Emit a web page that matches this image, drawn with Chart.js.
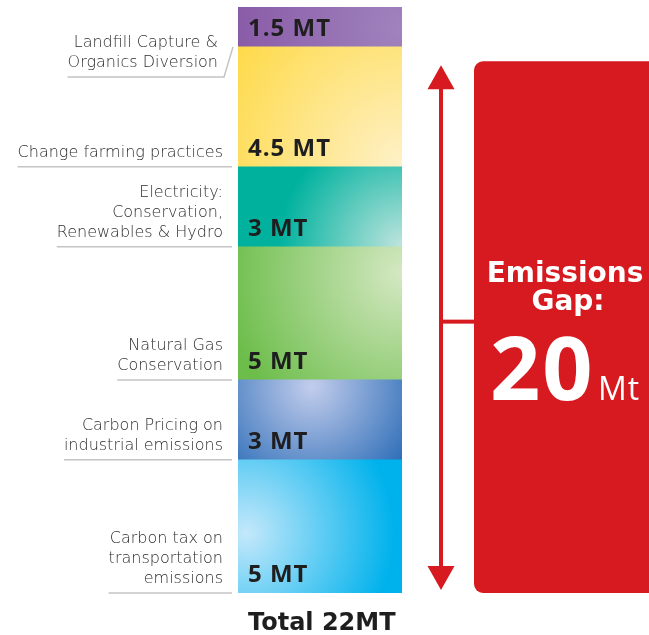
<!DOCTYPE html>
<html>
<head>
<meta charset="utf-8">
<script src="https://cdn.jsdelivr.net/npm/chart.js@4.4.1/dist/chart.umd.min.js"></script>
<style>
  html, body { margin: 0; padding: 0; background: #fff; }
  #gap { display: block; }
</style>
</head>
<body>
<canvas id="gap" width="649" height="635"></canvas>
<script>
// segments, bottom to top
var categories = [
    ['Carbon tax on', 'transportation', 'emissions'],
    ['Carbon Pricing on', 'industrial emissions'],
    ['Natural Gas', 'Conservation'],
    ['Electricity:', 'Conservation,', 'Renewables & Hydro'],
    ['Change farming practices'],
    ['Landfill Capture &', 'Organics Diversion']
];
var values = [5, 3, 5, 3, 4.5, 1.5];
var gapValue = 20;
var gapTitle = ['Emissions', 'Gap:'];
var unit = 'MT';
var gapUnit = 'Mt';

// base colour, highlight colour, highlight centre (fraction of box), radius (fraction of width)
var shades = [
    ['#00b2ec', '#c4e8fb', 0.05, 0.55, 0.9],
    ['#2669b5', '#c3cdec', 0.45, 0.08, 0.75],
    ['#6cbd4a', '#d4e8c2', 1.0, 0.2, 1.1],
    ['#00b29e', '#bfe4de', 1.0, 1.0, 0.75],
    ['#fed52e', '#fef1c8', 1.0, 1.0, 1.5],
    ['#8a5ca8', '#a083bd', 1.0, 0.5, 1.0]
];

var RED = '#d71920';
var SANS = '"Open Sans", "Liberation Sans", sans-serif';
var WIDE = '"DejaVu Sans", sans-serif';

function segBox(chart, i) {
    var y = chart.scales.y;
    var area = chart.chartArea;
    var start = 0;
    for (var k = 0; k < i; k++) start += values[k];
    return {
        left: area.left,
        right: area.right,
        top: y.getPixelForValue(start + values[i]),
        bottom: y.getPixelForValue(start)
    };
}

function fillFor(i) {
    return function(context) {
        var chart = context.chart;
        if (!chart.chartArea || !chart.scales.y) return shades[i][0];
        var b = segBox(chart, i);
        var s = shades[i];
        var w = b.right - b.left;
        var cx = b.left + s[2] * w;
        var cy = b.top + s[3] * (b.bottom - b.top);
        var g = chart.ctx.createRadialGradient(cx, cy, 0, cx, cy, s[4] * w);
        g.addColorStop(0, s[1]);
        g.addColorStop(1, s[0]);
        return g;
    };
}

var decorations = {
    id: 'decorations',
    afterDraw: function(chart) {
        var ctx = chart.ctx;
        var area = chart.chartArea;
        var y = chart.scales.y;
        ctx.save();
        ctx.textBaseline = 'alphabetic';

        // labels on the left, value text inside
        for (var i = 0; i < values.length; i++) {
            var b = segBox(chart, i);
            var lines = categories[i];
            var top = i === values.length - 1;
            var lineY = top ? b.bottom + 30 : b.bottom;
            var textRight = top ? 218 : 223;
            var lineRight = top ? 224 : area.left - 6;

            ctx.font = '200 16px ' + WIDE;
            ctx.letterSpacing = '0px';
            ctx.fillStyle = '#2e2e2e';
            ctx.textAlign = 'right';
            var maxW = 0;
            for (var j = 0; j < lines.length; j++) {
                var by = lineY - 10 - (lines.length - 1 - j) * 20;
                ctx.fillText(lines[j], textRight, by);
                maxW = Math.max(maxW, ctx.measureText(lines[j]).width);
            }
            ctx.strokeStyle = '#c4c4c4';
            ctx.lineWidth = 1.5;
            ctx.beginPath();
            ctx.moveTo(textRight - maxW, lineY);
            ctx.lineTo(lineRight, lineY);
            if (top) ctx.lineTo(area.left - 5, b.bottom);
            ctx.stroke();

            ctx.font = 'bold 24px ' + SANS;
            ctx.letterSpacing = '1px';
            ctx.fillStyle = '#1e1e1e';
            ctx.textAlign = 'left';
            ctx.fillText(values[i] + ' ' + unit, area.left + 10, b.bottom - 11);
        }

        // total
        var total = values.reduce(function(a, v) { return a + v; }, 0);
        ctx.font = 'bold 24px ' + WIDE;
        ctx.letterSpacing = '0px';
        ctx.fillStyle = '#1e1e1e';
        ctx.textAlign = 'left';
        ctx.fillText('Total ' + total + unit, 248, 630);

        // double arrow spanning the gap
        var ax = 441;
        var pTop = y.getPixelForValue(gapValue);
        var pBot = y.getPixelForValue(0);
        var yTop = pTop + 5;
        var yBot = pBot - 3;
        var yMid = (pTop + pBot) / 2 - 5;
        ctx.fillStyle = RED;
        ctx.fillRect(ax - 2, yTop + 10, 4, yBot - yTop - 20);
        ctx.beginPath();
        ctx.moveTo(ax, yTop);
        ctx.lineTo(ax - 13.5, yTop + 24);
        ctx.lineTo(ax + 13.5, yTop + 24);
        ctx.closePath();
        ctx.fill();
        ctx.beginPath();
        ctx.moveTo(ax, yBot);
        ctx.lineTo(ax - 13.5, yBot - 24);
        ctx.lineTo(ax + 13.5, yBot - 24);
        ctx.closePath();
        ctx.fill();

        // red panel
        var px = 474;
        ctx.fillRect(ax, yMid - 2, px - ax + 2, 4);
        ctx.beginPath();
        ctx.roundRect(px, pTop + 1, 200, pBot - pTop - 1, [9, 0, 0, 9]);
        ctx.fill();

        ctx.fillStyle = '#fff';
        ctx.textAlign = 'center';
        ctx.font = 'bold 28px ' + WIDE;
        ctx.fillText(gapTitle[0], 565, 282);
        ctx.fillText(gapTitle[1], 568, 310);
        ctx.textAlign = 'left';
        ctx.font = 'bold 88px ' + SANS;
        ctx.letterSpacing = '2px';
        ctx.fillText(String(gapValue), 490, 400);
        ctx.font = '500 32px ' + SANS;
        ctx.letterSpacing = '1px';
        ctx.fillText(gapUnit, 598, 400);

        ctx.restore();
    }
};

var datasets = values.map(function(v, i) {
    return {
        label: categories[i].join(' '),
        data: [v],
        backgroundColor: fillFor(i),
        borderWidth: 0,
        barPercentage: 1,
        categoryPercentage: 1
    };
});

new Chart(document.getElementById('gap'), {
    type: 'bar',
    data: { labels: [''], datasets: datasets },
    options: {
        responsive: false,
        animation: false,
        layout: { padding: { left: 238, right: 247, top: 7, bottom: 42 } },
        scales: {
            x: { stacked: true, display: false },
            y: { stacked: true, display: false, min: 0, max: 22 }
        },
        plugins: {
            legend: { display: false },
            tooltip: { enabled: false }
        }
    },
    plugins: [decorations]
});
</script>
</body>
</html>
